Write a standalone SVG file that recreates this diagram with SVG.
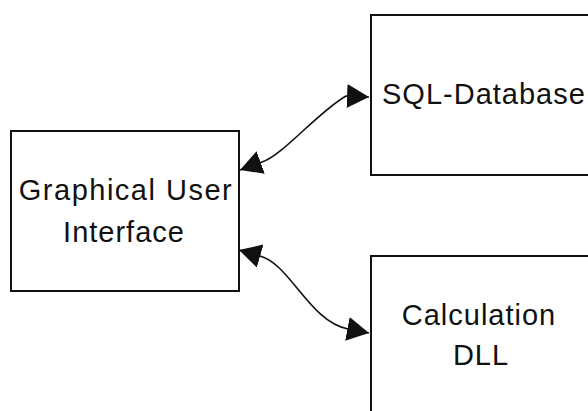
<svg xmlns="http://www.w3.org/2000/svg" width="588" height="411" viewBox="0 0 588 411">
<style>
.box{fill:#fff;stroke:#111;stroke-width:2}
.lbl{font-family:"Liberation Sans",Arial,sans-serif;font-size:29px;fill:#111;letter-spacing:1px}
.conn{fill:none;stroke:#111;stroke-width:1.6}
</style>
<defs>
<marker id="ah" markerUnits="userSpaceOnUse" markerWidth="24" markerHeight="24" refX="22" refY="12" orient="auto-start-reverse" viewBox="0 0 24 24">
<path d="M0,0 L22,12 L0,24 z" fill="#111"/>
</marker>
</defs>
<rect width="588" height="411" fill="#fff"/>
<g id="gui">
<rect class="box" x="11" y="131" width="228" height="160"/>
<text class="lbl" x="126" y="200" text-anchor="middle" style="letter-spacing:1.5px">Graphical User</text>
<text class="lbl" x="124" y="242" text-anchor="middle">Interface</text>
</g>
<g id="sql">
<rect class="box" x="371" y="15" width="230" height="160"/>
<text class="lbl" x="382" y="104">SQL-Database</text>
</g>
<g id="calc">
<rect class="box" x="371" y="256" width="230" height="170"/>
<text class="lbl" x="479" y="325" text-anchor="middle">Calculation</text>
<text class="lbl" x="481" y="365" text-anchor="middle">DLL</text>
</g>
<g id="connectors">
<path class="conn" d="M240,170 L262,162 C282,156 318,112 346,96 L369,97" marker-start="url(#ah)" marker-end="url(#ah)"/>
<path class="conn" d="M239,250 L260,256 C290,264 310,322 348,329 L369,333" marker-start="url(#ah)" marker-end="url(#ah)"/>
</g>
</svg>
